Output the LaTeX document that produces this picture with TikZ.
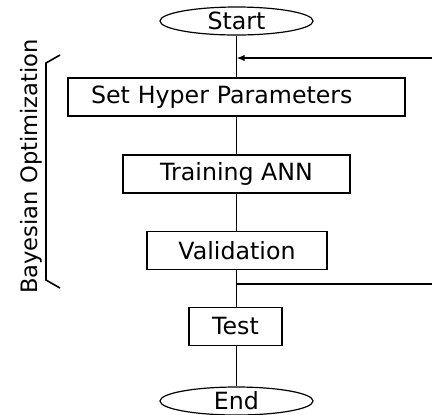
\documentclass[tikz,border=0pt]{standalone}
\usepackage{fontspec}
\setmainfont{DejaVu Sans}
\usetikzlibrary{shapes.geometric,arrows.meta}

\begin{document}
\begin{tikzpicture}[x=0.5pt,y=-0.5pt,
                    every node/.style={font=\fontsize{11.85}{14}\selectfont},
                    flow box/.style={draw,line width=0.6pt,inner sep=0pt,minimum height=19pt},
                    term node/.style={ellipse,draw,line width=0.6pt,inner sep=0pt,
                                      minimum width=76.5pt,minimum height=14pt},
                    link/.style={line width=0.8pt}]

        \useasboundingbox (0,0) rectangle (432,414);

        % Define vertices
        \node[term node] (start) at (236.5,21) {Start};
        \node[flow box,text width=145.5pt,inner xsep=11.5pt,align=left] (setp) at (236.5,97) {Set Hyper Parameters};
        \node[flow box,minimum width=113.5pt] (train) at (236.5,174) {Training ANN};
        \node[flow box,minimum width=90pt] (valid) at (237,250.5) {Validation};
        \node[flow box,minimum width=46.5pt] (test) at (235.5,326.5) {Test};
        \node[term node] (end) at (236.5,401) {End};

        % Loop back
        \coordinate (j1) at (236.5,58);
        \coordinate (j2) at (236.5,284);
        \coordinate (r1) at (432,58);
        \coordinate (r2) at (432,284);

        % Define edges
        \draw[link] (start) -- (setp.north -| start);
        \draw[link] (setp.south -| start) -- (train.north -| start);
        \draw[link] (train.south -| start) -- (valid.north -| start);
        \draw[link] (valid.south -| start) -- (test.north -| start);
        \draw[link] (test.south -| start) -- (end);
        \draw[link,-{Latex[length=4pt,width=3.2pt]}] (r1) -- (j1);
        \draw[link] (j2) -- (r2);

        % Brace
        \draw[line width=0.8pt] (60,55) -- (46,63) -- (46,280) -- (60,288);
        \node[rotate=90,inner sep=0pt,font=\fontsize{11.3}{14}\selectfont] (bayes) at (31.5,166.5) {Bayesian Optimization};
        \end{tikzpicture}
\end{document}
